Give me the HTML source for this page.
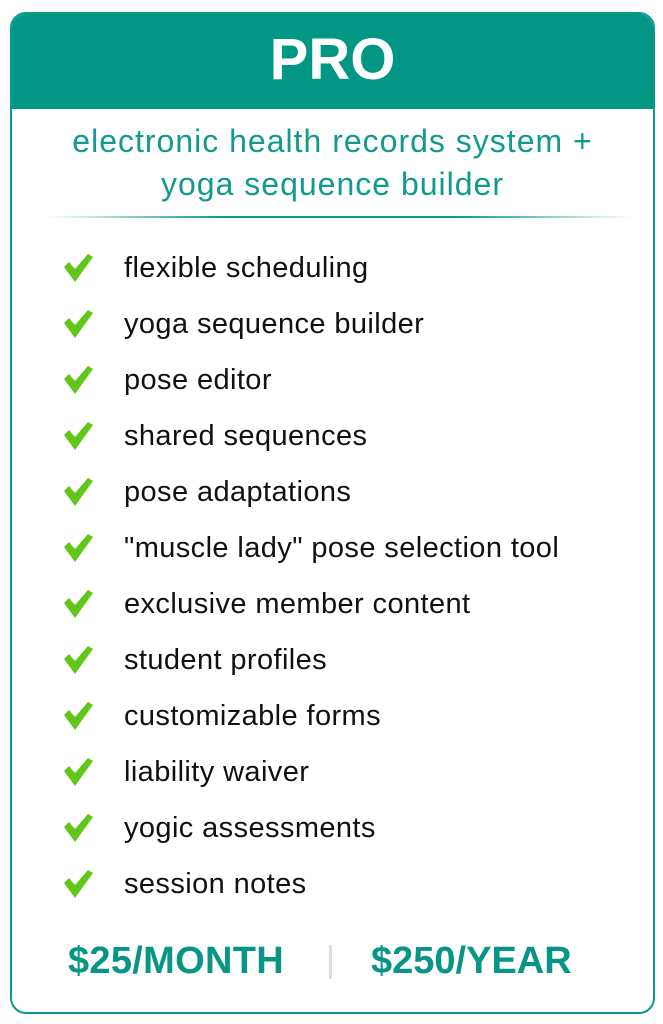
<!DOCTYPE html>
<html><head><meta charset="utf-8"><style>
*{margin:0;padding:0;box-sizing:border-box}
body{width:663px;height:1024px;background:#fff;position:relative;font-family:"Liberation Sans",sans-serif;overflow:hidden}
.card{position:absolute;left:10px;top:12px;width:645px;height:1002px;border:2px solid #0a9a8c;border-radius:16px;overflow:hidden}
.hd{position:absolute;left:0;top:0;width:100%;height:95px;background:#029685;color:#fff;font-weight:bold;font-size:58px;text-align:center;line-height:92px}
.sub{position:absolute;left:0;width:100%;text-align:center;color:#129a8c;font-size:32px;letter-spacing:1px}
.div{position:absolute;left:35px;top:202px;width:585px;height:2px;background:linear-gradient(90deg,rgba(10,150,135,0),#0a9a8c 30%,#0a9a8c 70%,rgba(10,150,135,0))}
.it{position:absolute;left:114px;font-size:29px;color:#111;line-height:30px;letter-spacing:0.4px}
.ck{position:absolute;left:54px;width:32px;height:30px}
.pr{position:absolute;top:939px;font-size:38px;font-weight:bold;color:#079686;line-height:44px}
.sep{position:absolute;left:329px;top:945px;width:3px;height:34px;background:#ddd}
</style></head><body>
<div class="card">
<div class="hd">PRO</div>
<div class="sub" style="top:109px">electronic health records system +</div>
<div class="sub" style="top:152px">yoga sequence builder</div>
<div class="div"></div>
</div>
<div id="list"></div>
<div class="pr" style="left:68px;letter-spacing:0.3px">$25/MONTH</div>
<div class="sep"></div>
<div class="pr" style="left:371px">$250/YEAR</div>
<script>
var items=["flexible scheduling","yoga sequence builder","pose editor","shared sequences","pose adaptations","\"muscle lady\" pose selection tool","exclusive member content","student profiles","customizable forms","liability waiver","yogic assessments","session notes"];
var h="";
items.forEach(function(t,i){var y=268+i*56;
h+='<svg class="ck" style="left:64px;top:'+(y-16)+'px" viewBox="0 0 32 30"><path d="M0 15 L5 10 L11 17 L24 2 L29 5 L11 30 Z" fill="#62c61a"/></svg>';
h+='<div class="it" style="left:124px;top:'+(y-15)+'px">'+t.replace(/"/g,'&quot;')+'</div>';});
document.getElementById("list").innerHTML=h;
</script>
</body></html>
